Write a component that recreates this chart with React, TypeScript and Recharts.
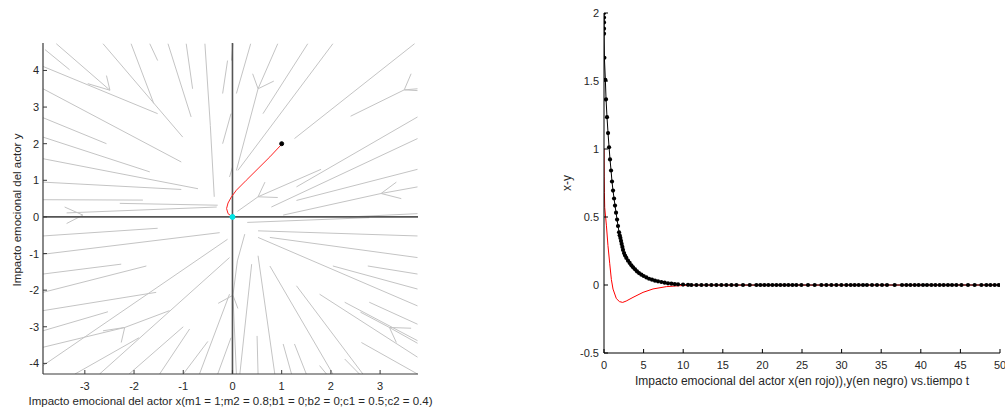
import React from 'react';
import { LineChart, Line, XAxis, YAxis, ReferenceLine, ReferenceDot, Label } from 'recharts';

const FONT = '"Liberation Sans", Arial, sans-serif';

// ---------- Phase plane (left) ----------
const phaseXTicks = [-3, -2, -1, 0, 1, 2, 3];
const phaseYTicks = [-4, -3, -2, -1, 0, 1, 2, 3, 4];
const phaseXDomain = [-3.85, 3.77];
const phaseYDomain = [-4.29, 4.75];

const trajX = [0.99, 0.76, 0.52, 0.28, 0.08, -0.02, -0.09, -0.12, -0.09, 0];
const trajY = [1.97, 1.64, 1.32, 1.0, 0.73, 0.55, 0.38, 0.23, 0.09, 0];
const startPoint = [1, 2];
const equilibrium = [0, 0];

// streamlines, [x, y] points
const fieldLines = [
  [[-3.81, 4.57], [-3.31, 4.02]],
  [[-3.58, 4.73], [-2.49, 3.46]],
  [[-3.85, 4.11], [-1.52, 2.82]],
  [[-3.85, 3.5], [-1.04, 1.5]],
  [[-3.85, 2.71], [-2.56, 2.0]],
  [[-3.85, 2.18], [-1.68, 1.23]],
  [[-3.85, 1.59], [-0.7, 0.77]],
  [[-3.85, 0.95], [-1.04, 0.75]],
  [[-3.85, 0.47], [-1.82, 0.46]],
  [[-3.37, 0.11], [-0.32, 0.27]],
  [[-2.29, 0.37], [-0.3, 0.32]],
  [[-2.63, 4.73], [-1.01, 2.18]],
  [[-2.06, 4.73], [-1.6, 3.1]],
  [[-1.68, 4.73], [-1.52, 4.27]],
  [[-1.31, 4.73], [-0.84, 2.73]],
  [[-0.94, 4.73], [-0.81, 3.5]],
  [[-0.56, 4.73], [-0.45, 2.5], [-0.37, 0.55]],
  [[-0.1, 4.27], [-0.2, 3.37]],
  [[-0.03, 2.82], [-0.2, 2.0]],
  [[0.0, 1.36], [-0.06, 1.09]],
  [[0.01, 4.73], [-0.02, 4.27]],
  [[0.37, 4.73], [0.08, 3.37]],
  [[0.92, 4.73], [0.52, 3.5], [0.08, 1.27]],
  [[1.53, 4.73], [0.62, 2.82]],
  [[2.04, 4.73], [0.11, 1.27]],
  [[3.7, 4.73], [1.26, 2.14]],
  [[3.76, 3.5], [3.49, 3.47], [2.4, 2.75]],
  [[3.76, 2.73], [1.3, 0.82]],
  [[3.76, 2.14], [0.79, 0.27]],
  [[3.76, 1.3], [1.3, 0.45]],
  [[1.8, 1.3], [0.52, 0.55], [0.1, 0.15]],
  [[3.76, 0.82], [3.02, 0.64], [1.03, 0.05]],
  [[3.76, 0.09], [2.38, 0.0]],
  [[-3.85, -0.52], [-1.52, -0.31]],
  [[-3.85, -1.02], [-0.26, -0.43]],
  [[-3.85, -1.56], [-2.26, -1.29]],
  [[-3.85, -2.06], [-1.75, -1.34]],
  [[-3.85, -2.56], [-1.55, -2.06]],
  [[-3.85, -3.11], [-2.53, -2.59]],
  [[-3.85, -3.56], [-2.19, -3.02], [-1.28, -2.56]],
  [[-3.85, -4.06], [-0.1, -0.61]],
  [[-3.2, -4.29], [-1.9, -3.3]],
  [[-2.7, -4.29], [-0.06, -1.11]],
  [[-2.1, -4.29], [-1.0, -3.0]],
  [[-1.48, -4.29], [-0.87, -3.06]],
  [[-1.0, -4.29], [-0.5, -3.4]],
  [[-0.67, -4.29], [-0.06, -2.11]],
  [[-0.3, -4.29], [-0.03, -3.3]],
  [[0.25, -0.47], [0.1, -1.2], [0.01, -2.14], [0.08, -4.29]],
  [[0.3, -0.15], [2.78, -0.02]],
  [[0.52, -0.38], [3.76, -0.52]],
  [[0.76, -0.56], [3.76, -1.11]],
  [[0.52, -0.56], [3.76, -2.43]],
  [[2.04, -1.34], [3.76, -1.97]],
  [[2.75, -1.34], [3.76, -1.56]],
  [[1.77, -2.11], [3.76, -3.83]],
  [[2.28, -2.33], [3.76, -3.38]],
  [[2.78, -2.33], [3.76, -2.93]],
  [[3.76, -3.45], [3.19, -3.02], [2.6, -2.6]],
  [[1.3, -1.88], [2.65, -4.29]],
  [[0.76, -1.34], [2.04, -4.29]],
  [[0.52, -1.06], [0.86, -4.29]],
  [[0.39, -1.29], [0.15, -4.29]],
  [[0.5, -3.25], [0.52, -4.29]],
  [[1.03, -3.47], [1.2, -4.29]],
  [[1.26, -3.47], [1.5, -4.29]],
  [[2.62, -3.43], [3.76, -4.29]],
  [[1.77, -4.06], [1.91, -4.29]],
  [[2.28, -3.88], [2.58, -4.29]],
];

// arrow heads: wing, tip, wing
const fieldArrows = [
  [[-2.94, 3.64], [-2.49, 3.46], [-2.56, 3.86]],
  [[-3.41, 0.27], [-3.04, 0.05], [-3.37, -0.18]],
  [[0.41, 3.91], [0.52, 3.5], [0.84, 3.71]],
  [[3.63, 3.91], [3.49, 3.47], [3.76, 3.45]],
  [[0.66, 0.95], [0.52, 0.55], [0.92, 0.53]],
  [[3.33, 0.95], [3.02, 0.64], [3.43, 0.5]],
  [[-2.63, -3.11], [-2.19, -3.02], [-2.26, -3.43]],
  [[-0.29, -2.36], [0.01, -2.14], [0.11, -2.5]],
  [[3.63, -3.04], [3.19, -3.02], [3.33, -3.43]],
];

// ---------- Time series (right) ----------
const timeTicks = [0, 5, 10, 15, 20, 25, 30, 35, 40, 45, 50];
const valueTicks = [-0.5, 0, 0.5, 1, 1.5, 2];

const xTime = [0, 0.02, 0.05, 0.09, 0.3, 0.5, 0.72, 0.93, 1.14, 1.56, 1.95, 2.35, 2.8, 3.66, 4.93, 6.19, 7.87, 9.56, 11.24, 50];
const xValues = [1.0, 0.8, 0.68, 0.57, 0.44, 0.29, 0.16, 0.04, -0.03, -0.1, -0.122, -0.128, -0.118, -0.091, -0.054, -0.029, -0.012, -0.005, -0.001, 0];

const yTime = [0, 0, 0, 0, 0, 0.05, 0.17, 0.26, 0.38, 0.51, 0.64, 0.76, 0.89, 1.01, 1.14, 1.27, 1.39, 1.52, 1.65, 1.77, 1.9, 1.98, 2.07, 2.15, 2.23, 2.32, 2.4, 2.53, 2.66, 2.82, 3.03, 3.24, 3.46, 3.67, 3.92, 4.17, 4.42, 4.72, 5.01, 5.35, 5.69, 6.06, 6.44, 6.82, 7.24, 7.66, 8.08, 8.51, 8.93, 9.35, 9.98, 10.61];
const yValues = [2.0, 1.966, 1.931, 1.885, 1.848, 1.671, 1.509, 1.365, 1.234, 1.117, 1.013, 0.923, 0.842, 0.761, 0.694, 0.636, 0.584, 0.532, 0.481, 0.434, 0.388, 0.365, 0.346, 0.324, 0.302, 0.28, 0.258, 0.235, 0.216, 0.199, 0.179, 0.162, 0.145, 0.13, 0.115, 0.1, 0.088, 0.076, 0.066, 0.056, 0.046, 0.039, 0.032, 0.027, 0.022, 0.017, 0.012, 0.01, 0.007, 0.005, 0.003, 0.001];
// solver steps after the solution has settled at y = 0
const settledTimes = [11.03, 11.67, 12.3, 12.93, 13.56, 14.19, 14.82, 15.45, 16.09, 16.72, 17.55, 18.4, 19.24, 19.74, 20.25, 20.75, 21.26, 21.77, 22.27, 22.78, 23.28, 23.79, 24.29, 24.92, 25.76, 26.6, 27.45, 28.08, 28.71, 29.34, 29.97, 30.6, 31.15, 31.65, 32.16, 32.7, 33.2, 33.84, 34.47, 35.1, 35.73, 36.7, 37.63, 38.18, 38.69, 39.23, 39.73, 40.28, 40.78, 41.33, 41.84, 42.38, 42.89, 43.43, 43.94, 44.49, 45.13, 45.96, 46.8, 47.65, 48.28, 48.79, 49.33, 49.84];
const settledValue = 0;

// ---------- helpers ----------
const toPts = (arr: number[][]) => arr.map(([x, y]) => ({ x, y }));
const trajData = trajX.map((x, i) => ({ x, y: trajY[i] }));
const xSeries = xTime.map((t, i) => ({ t, v: xValues[i] }));
const ySeries = yTime.map((t, i) => ({ t, v: yValues[i] })).concat(settledTimes.map((t) => ({ t, v: settledValue })));

const tickStyle = { fontFamily: FONT, fontSize: 11, fill: '#262626' };
const titleStyleL = { fontFamily: FONT, fontSize: 11.5, fill: '#262626' };
const titleStyleR = { fontFamily: FONT, fontSize: 12, fill: '#262626' };

const mkBottomTick = (color: string, len: number) => (p: any) => (
  <g>
    <line x1={p.x} x2={p.x} y1={p.y} y2={p.y - len} stroke={color} strokeWidth={1} />
    <text x={p.x} y={p.y + 15.5} textAnchor="middle" style={tickStyle}>
      {p.payload.value}
    </text>
  </g>
);
const mkTopTick = (color: string, len: number) => (p: any) => (
  <line x1={p.x} x2={p.x} y1={p.y} y2={p.y + len} stroke={color} strokeWidth={1} />
);
const mkLeftTick = (color: string, len: number, gap: number) => (p: any) => (
  <g>
    <line x1={p.x} x2={p.x + len} y1={p.y} y2={p.y} stroke={color} strokeWidth={1} />
    <text x={p.x - gap} y={p.y + 4} textAnchor="end" style={tickStyle}>
      {p.payload.value}
    </text>
  </g>
);
const mkRightTick = (color: string, len: number) => (p: any) => (
  <line x1={p.x} x2={p.x - len} y1={p.y} y2={p.y} stroke={color} strokeWidth={1} />
);

const xTitle = (text: string, dy: number, style: any) => (p: any) => {
  const vb = p.viewBox;
  if (!vb) return null;
  return (
    <text x={vb.x + vb.width / 2} y={vb.y + dy} textAnchor="middle" style={style}>
      {text}
    </text>
  );
};
const yTitle = (text: string, dx: number, dyc: number, style: any) => (p: any) => {
  const vb = p.viewBox;
  if (!vb) return null;
  const cx = vb.x + dx;
  const cy = vb.y + vb.height / 2 + dyc;
  return (
    <text x={cx} y={cy} transform={`rotate(-90, ${cx}, ${cy})`} textAnchor="middle" dominantBaseline="central" style={style}>
      {text}
    </text>
  );
};

const AXIS_L = '#3a3a3a';

function PhasePlane() {
  return (
    <LineChart width={440} height={411} margin={{ top: 43, right: 22, bottom: 17, left: 13 }}>
      <XAxis
        type="number"
        dataKey="x"
        domain={phaseXDomain}
        ticks={phaseXTicks}
        allowDataOverflow
        height={20}
        tickSize={0}
        tickMargin={0}
        axisLine={{ stroke: AXIS_L, strokeWidth: 1.2 }}
        tick={mkBottomTick(AXIS_L, 4)}
        interval={0}
      >
        <Label content={xTitle('Impacto emocional del actor x(m1 = 1;m2 = 0.8;b1 = 0;b2 = 0;c1 = 0.5;c2 = 0.4)', 30.5, titleStyleL)} />
      </XAxis>
      <YAxis
        type="number"
        dataKey="y"
        domain={phaseYDomain}
        ticks={phaseYTicks}
        allowDataOverflow
        width={30}
        tickSize={0}
        tickMargin={0}
        axisLine={{ stroke: AXIS_L, strokeWidth: 1.2 }}
        tick={mkLeftTick(AXIS_L, 4, 4)}
        interval={0}
      >
        <Label content={yTitle('Impacto emocional del actor y', 4, 1.5, titleStyleL)} />
      </YAxis>
      {fieldLines.map((ln, i) => (
        <Line key={'f' + i} data={toPts(ln)} dataKey="y" stroke="#c4c4c4" strokeWidth={1} dot={false} activeDot={false} isAnimationActive={false} />
      ))}
      {fieldArrows.map((ln, i) => (
        <Line key={'a' + i} data={toPts(ln)} dataKey="y" stroke="#c4c4c4" strokeWidth={1} dot={false} activeDot={false} isAnimationActive={false} />
      ))}
      <ReferenceLine x={0} stroke="#555" strokeWidth={1.6} />
      <ReferenceLine y={0} stroke="#555" strokeWidth={1.6} />
      <Line data={trajData} dataKey="y" stroke="#ff2020" strokeWidth={1} dot={false} activeDot={false} isAnimationActive={false} />
      <ReferenceDot x={startPoint[0]} y={startPoint[1]} r={2} fill="#000" stroke="#000" />
      <ReferenceDot x={equilibrium[0]} y={equilibrium[1]} r={2.5} fill="#00e5e5" stroke="#00e5e5" />
    </LineChart>
  );
}

const BlackDot = (p: any) => {
  if (p.cx == null || p.cy == null) return <g key={p.index} />;
  return <circle key={p.index} cx={p.cx} cy={p.cy} r={2.1} fill="#000" />;
};

function TimeSeries() {
  return (
    <LineChart width={445} height={411} margin={{ top: 13, right: 5, bottom: 38, left: 14 }}>
      <XAxis
        type="number"
        dataKey="t"
        domain={[0, 50]}
        ticks={timeTicks}
        allowDataOverflow
        height={20}
        tickSize={0}
        tickMargin={0}
        axisLine={{ stroke: '#000', strokeWidth: 1 }}
        tick={mkBottomTick('#000', 4)}
        interval={0}
      >
        <Label content={xTitle('Impacto emocional del actor x(en rojo)),y(en negro) vs.tiempo t', 32, titleStyleR)} />
      </XAxis>
      <XAxis
        xAxisId="top"
        orientation="top"
        type="number"
        dataKey="t"
        domain={[0, 50]}
        ticks={timeTicks}
        allowDataOverflow
        height={0}
        tickSize={0}
        tickMargin={0}
        axisLine={{ stroke: '#000', strokeWidth: 1 }}
        tick={mkTopTick('#000', 4)}
        interval={0}
      />
      <YAxis
        type="number"
        dataKey="v"
        domain={[-0.5, 2]}
        ticks={valueTicks}
        allowDataOverflow
        width={30}
        tickSize={0}
        tickMargin={0}
        axisLine={{ stroke: '#000', strokeWidth: 1 }}
        tick={mkLeftTick('#000', 4, 5)}
        interval={0}
      >
        <Label content={yTitle('x-y', -7, 0, titleStyleR)} />
      </YAxis>
      <YAxis
        yAxisId="r"
        orientation="right"
        type="number"
        domain={[-0.5, 2]}
        ticks={valueTicks}
        allowDataOverflow
        width={0}
        tickSize={0}
        tickMargin={0}
        axisLine={{ stroke: '#000', strokeWidth: 1 }}
        tick={mkRightTick('#000', 4)}
        interval={0}
      />
      <Line data={xSeries} dataKey="v" stroke="#ff0000" strokeWidth={1} dot={false} activeDot={false} isAnimationActive={false} />
      <Line data={ySeries} dataKey="v" stroke="#000" strokeWidth={1} dot={BlackDot} activeDot={false} isAnimationActive={false} />
    </LineChart>
  );
}

export default function App() {
  return (
    <div style={{ position: 'absolute', left: 0, top: 0, width: 1005, height: 411, background: '#fff', overflow: 'hidden' }}>
      <div style={{ position: 'absolute', left: 0, top: 0 }}>
        <PhasePlane />
      </div>
      <div style={{ position: 'absolute', left: 560, top: 0 }}>
        <TimeSeries />
      </div>
    </div>
  );
}
